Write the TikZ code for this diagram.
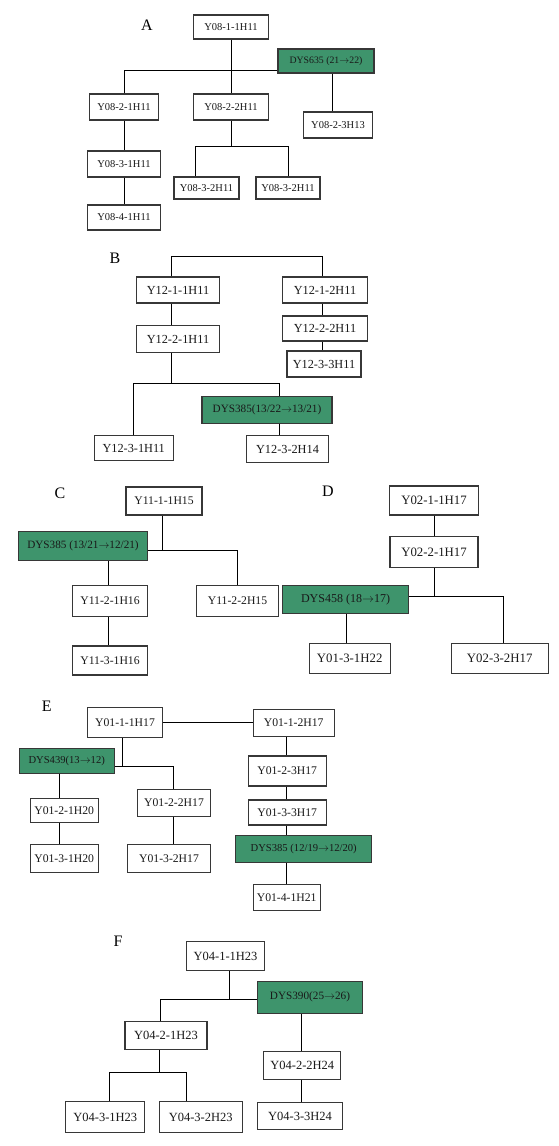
\documentclass[tikz,border=0pt]{standalone}
\usepackage{fontspec}
\setmainfont{Liberation Serif}
\definecolor{mutgreen}{RGB}{62,148,108}
\definecolor{boxgray}{RGB}{55,55,55}
\newcommand{\ra}{$\rightarrow$}
\tikzset{
  ybox/.style={draw=boxgray, line width=1.2pt, fill=white, inner sep=1pt,
    text=black!90, font=\fontsize{12}{12}\selectfont},
  gbox/.style={ybox, fill=mutgreen, font=\fontsize{11}{11}\selectfont},
  sz/.style 2 args={minimum width=#1pt, minimum height=#2pt},
  lbl/.style={font=\fontsize{16}{16}\selectfont}
}

\begin{document}
\begin{tikzpicture}[x=1pt, y=-1pt, line width=0.8pt]
  \useasboundingbox (0,0) rectangle (558,1146);

  % panel A
  \begin{scope}[ybox/.append style={font=\fontsize{10.5}{10.5}\selectfont},
                gbox/.append style={font=\fontsize{9.8}{9.8}\selectfont}]
    \node[lbl] (la) at (147,25) {A};
    \node[ybox, sz={75}{24}] (a11) at (231,27) {Y08-1-1H11};
    \node[gbox, sz={96}{24}] (ag) at (326,61) {DYS635 (21\ra22)};
    \node[ybox, sz={69}{26}] (a21) at (124,107) {Y08-2-1H11};
    \node[ybox, sz={75}{26}] (a22) at (231,107) {Y08-2-2H11};
    \node[ybox, sz={69}{26}] (a23) at (338,125) {Y08-2-3H13};
    \node[ybox, sz={73}{26}] (a31) at (124,164) {Y08-3-1H11};
    \node[ybox, sz={73}{25}] (a41) at (124,217.5) {Y08-4-1H11};
    \node[ybox, sz={65}{22}] (a32) at (206.5,188) {Y08-3-2H11};
    \node[ybox, sz={64}{22}] (a33) at (288,188) {Y08-3-2H11};
  \end{scope}
  \draw (a11) -- (a22);
  \draw (a21.north) |- ([yshift=-9.7pt]ag.west);
  \path ([xshift=6pt]ag.south) coordinate (agx);
  \draw (agx) -- (agx |- a23.north);
  \draw (a21) -- (a31);
  \draw (a31) -- (a41);
  \draw (a22.south) -- ++(0,26) coordinate (a2j);
  \draw ([xshift=-11.5pt]a32.north) |- (a2j) -| (a33.north);

  % panel B
  \begin{scope}[ybox/.append style={font=\fontsize{12.3}{12.3}\selectfont},
                gbox/.append style={font=\fontsize{11.2}{11.2}\selectfont}]
    \node[lbl] (lb) at (115,258) {B};
    \node[ybox, sz={83}{26}] (b11) at (178,290) {Y12-1-1H11};
    \node[ybox, sz={85}{26}] (b12) at (325,290) {Y12-1-2H11};
    \node[ybox, sz={83}{27}] (b21) at (178,339.3) {Y12-2-1H11};
    \node[ybox, sz={85}{25}] (b22) at (325,328.5) {Y12-2-2H11};
    \node[ybox, sz={74}{26}] (b23) at (324,364) {Y12-3-3H11};
    \node[gbox, sz={130}{27}] (bg) at (267,410) {DYS385(13/22\ra13/21)};
    \node[ybox, sz={79}{25}] (b31) at (133.7,448.3) {Y12-3-1H11};
    \node[ybox, sz={82}{27}] (b32) at (287.5,449.3) {Y12-3-2H14};
  \end{scope}
  \draw ([xshift=-7pt]b11.north) -- ++(0,-19.7) -| ([xshift=-3pt]b12.north);
  \draw ([xshift=-7pt]b11.south) -- ([xshift=-7pt]b21.north);
  \draw ([xshift=-3pt]b12.south) -- ([xshift=-3pt]b22.north);
  \draw ([xshift=-3pt]b22.south) -- ([xshift=-2pt]b23.north);
  \draw ([xshift=-7pt]b21.south) -- ++(0,30) coordinate (bj);
  \draw (b31.north) |- (bj) -| ([xshift=12pt]bg.north);
  \draw ([xshift=12pt]bg.south) -- ([xshift=-8.5pt]b32.north);

  % panel C
  \begin{scope}[ybox/.append style={font=\fontsize{11.7}{11.7}\selectfont},
                gbox/.append style={font=\fontsize{11.2}{11.2}\selectfont}]
    \node[lbl] (lc) at (60,493) {C};
    \node[ybox, sz={76}{28}] (c11) at (164,501) {Y11-1-1H15};
    \node[gbox, sz={129}{29}] (cg) at (83,546) {DYS385 (13/21\ra12/21)};
    \node[ybox, sz={75}{31}] (c21) at (110,601) {Y11-2-1H16};
    \node[ybox, sz={82}{31}] (c22) at (237.5,601) {Y11-2-2H15};
    \node[ybox, sz={75}{29}] (c31) at (110,660.5) {Y11-3-1H16};
  \end{scope}
  \draw ([xshift=-2pt]c11.south) -- ++(0,35) coordinate (cj);
  \draw (cg.east |- cj) -- (cj) -| (c22.north);
  \draw ([xshift=25pt]cg.south) -- ([xshift=-2pt]c21.north);
  \draw ([xshift=-2pt]c21.south) -- ([xshift=-2pt]c31.north);

  % panel D
  \begin{scope}[ybox/.append style={font=\fontsize{12.8}{12.8}\selectfont},
                gbox/.append style={font=\fontsize{12}{12}\selectfont}]
    \node[lbl] (ld) at (328,491.7) {D};
    \node[ybox, sz={89}{29}] (d11) at (434,500.5) {Y02-1-1H17};
    \node[ybox, sz={88}{31}] (d21) at (434,552.2) {Y02-2-1H17};
    \node[gbox, sz={126}{28}] (dg) at (345.5,599.2) {DYS458 (18\ra17)};
    \node[ybox, sz={81}{30}] (d31) at (349.7,658.3) {Y01-3-1H22};
    \node[ybox, sz={97}{30}] (d32) at (499.7,658.3) {Y02-3-2H17};
  \end{scope}
  \draw (d11) -- (d21);
  \draw (d21.south) -- ++(0,28) coordinate (dj);
  \draw (dg.east |- dj) -- (dj) -| ([xshift=3.6pt]d32.north);
  \draw ([xshift=1.2pt]dg.south) -- ([xshift=-3pt]d31.north);

  % panel E
  \begin{scope}[ybox/.append style={font=\fontsize{11.7}{11.7}\selectfont},
                gbox/.append style={font=\fontsize{10.6}{10.6}\selectfont}]
    \node[lbl] (le) at (46.7,706.7) {E};
    \node[ybox, sz={75}{30}] (e11) at (125,722.5) {Y01-1-1H17};
    \node[ybox, sz={81}{27}] (e12) at (293.7,723) {Y01-1-2H17};
    \node[gbox, sz={95}{25}] (eg) at (66.7,760.8) {DYS439(13\ra12)};
    \node[ybox, sz={68}{24}] (e21) at (64.2,810.5) {Y01-2-1H20};
    \node[ybox, sz={68}{28}] (e31) at (64.2,858.8) {Y01-3-1H20};
    \node[ybox, sz={73}{27}] (e22) at (174,802.7) {Y01-2-2H17};
    \node[ybox, sz={83}{28}] (e32) at (169,858.8) {Y01-3-2H17};
    \node[ybox, sz={78}{30}] (e23) at (287.2,771) {Y01-2-3H17};
    \node[ybox, sz={78}{25}] (e33) at (287.2,812.5) {Y01-3-3H17};
    \node[gbox, sz={136}{27}] (eg2) at (303.7,849.3) {DYS385 (12/19\ra12/20)};
    \node[ybox, sz={67}{26}] (e41) at (286.7,897.2) {Y01-4-1H21};
  \end{scope}
  \draw (e11.east) -- (e11.east -| e12.west);
  \draw ([xshift=-3pt]e11.south) -- ++(0,28.4) coordinate (ej);
  \draw (eg.east |- ej) -- (ej) -| ([xshift=-0.7pt]e22.north);
  \draw ([xshift=-7.7pt]eg.south) -- ([xshift=-5.2pt]e21.north);
  \draw ([xshift=-5.2pt]e21.south) -- ([xshift=-5.2pt]e31.north);
  \draw ([xshift=-0.7pt]e22.south) -- ([xshift=4.3pt]e32.north);
  \draw ([xshift=-7.7pt]e12.south) -- ([xshift=-1.2pt]e23.north);
  \draw ([xshift=-1.2pt]e23.south) -- ([xshift=-1.2pt]e33.north);
  \draw ([xshift=-1.2pt]e33.south) -- ([xshift=-17.7pt]eg2.north);
  \draw ([xshift=-17.7pt]eg2.south) -- ([xshift=-0.7pt]e41.north);

  % panel F
  \begin{scope}[ybox/.append style={font=\fontsize{12.5}{12.5}\selectfont},
                gbox/.append style={font=\fontsize{11.2}{11.2}\selectfont}]
    \node[lbl] (lf) at (118,941) {F};
    \node[ybox, sz={78}{29}] (f11) at (225.5,956.2) {Y04-1-1H23};
    \node[gbox, sz={105}{32}] (fg) at (310,997.2) {DYS390(25\ra26)};
    \node[ybox, sz={82}{28}] (f21) at (166,1035.8) {Y04-2-1H23};
    \node[ybox, sz={77}{28}] (f22) at (302.3,1065.8) {Y04-2-2H24};
    \node[ybox, sz={85}{27}] (f23) at (300,1116) {Y04-3-3H24};
    \node[ybox, sz={79}{31}] (f31) at (105.3,1117.2) {Y04-3-1H23};
    \node[ybox, sz={83}{31}] (f32) at (200.7,1117.2) {Y04-3-2H23};
  \end{scope}
  \draw ([xshift=3.5pt]f11.south) -- ++(0,28.3) coordinate (fj);
  \draw ([xshift=-5.3pt]f21.north) |- (fj) -- (fj -| fg.west);
  \draw ([xshift=-9pt]fg.south) -- ([xshift=-1.3pt]f22.north);
  \draw ([xshift=-1.3pt]f22.south) -- ([xshift=1pt]f23.north);
  \draw ([xshift=-7pt]f21.south) -- ++(0,21.7) coordinate (fk);
  \draw ([xshift=4pt]f31.north) |- (fk) -| ([xshift=-14pt]f32.north);
\end{tikzpicture}
\end{document}
